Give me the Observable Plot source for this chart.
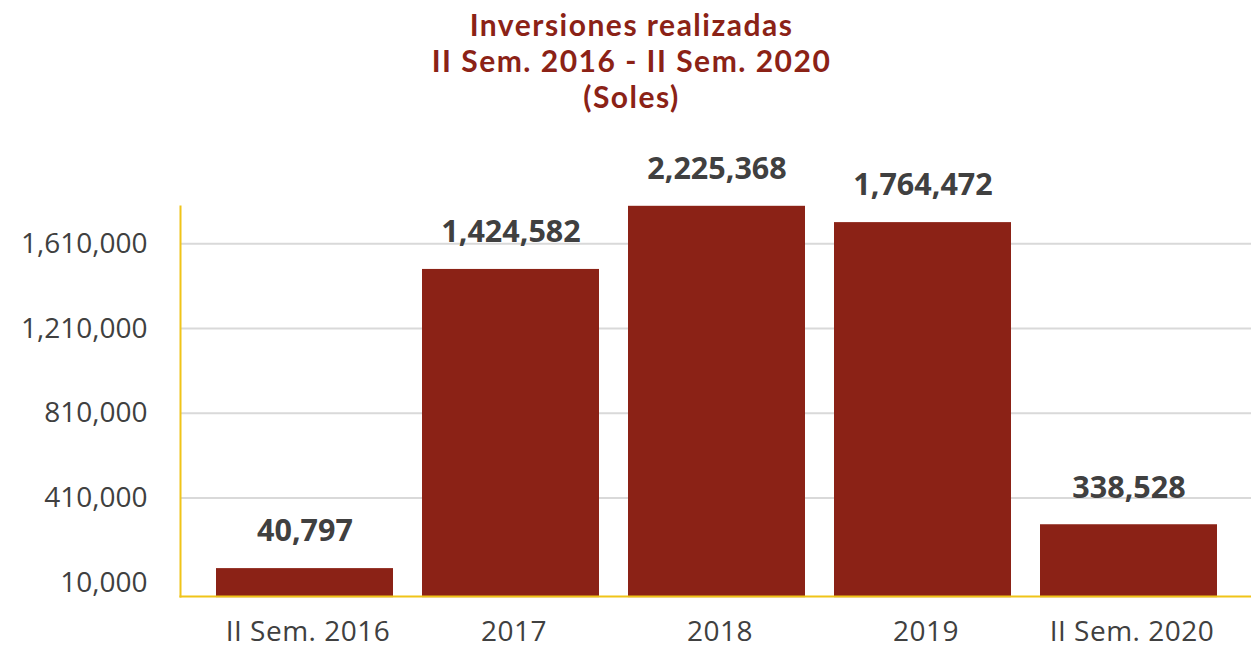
<!DOCTYPE html>
<html>
<head>
<meta charset="utf-8">
<script src="https://cdn.jsdelivr.net/npm/d3@7"></script>
<script src="https://cdn.jsdelivr.net/npm/@observablehq/plot@0.6"></script>
<style>
  html, body { margin: 0; padding: 0; background: #fff; }
  #title { height: 125px; box-sizing: border-box; padding-top: 6px; padding-left: 12px;
    text-align: center; font-family: Lato, sans-serif; font-weight: 700;
    font-size: 30px; line-height: 36px; letter-spacing: 1.5px; color: #8B2216; }
  #chart svg { display: block; }
</style>
</head>
<body>
<div id="title">Inversiones realizadas<br>II Sem. 2016 - II Sem. 2020<br>(Soles)</div>
<div id="chart"></div>
<script>
// Categories (x axis)
const categories = ["II Sem. 2016", "2017", "2018", "2019", "II Sem. 2020"];
// Bar heights as drawn against the y axis
const barValues = [77000, 1489000, 1787000, 1710000, 284000];
// Value labels printed above the bars
const labelValues = [40797, 1424582, 2225368, 1764472, 338528];
// Y axis ticks
const yTicks = [10000, 410000, 810000, 1210000, 1610000];
const gridTicks = [410000, 810000, 1210000, 1610000];
const axisBase = -60000;

const data = categories.map((c, i) => ({cat: c, value: barValues[i], label: d3.format(",")(labelValues[i])}));

const font = "Open Sans, sans-serif";
const plot = Plot.plot({
  width: 1251,
  height: 532,
  marginTop: 81,
  marginBottom: 61,
  marginLeft: 180,
  marginRight: 0,
  style: {fontFamily: font, background: "white"},
  x: {type: "band", domain: categories, range: [202, 1232], paddingInner: 0.14, paddingOuter: 0.07, axis: null},
  y: {domain: [10000, 1610000], range: [457.3, 118.3], axis: null},
  marks: [
    Plot.ruleY(gridTicks, {stroke: "#D9D9D9", strokeWidth: 2}),
    Plot.barY(data, {x: "cat", y1: axisBase, y2: "value", fill: "#8B2216"}),
    Plot.frame({anchor: "left", stroke: "#F0C419", strokeWidth: 2}),
    Plot.frame({anchor: "bottom", stroke: "#F0C419", strokeWidth: 2}),
    Plot.text(yTicks, {y: d => d, text: d => d3.format(",")(d), frameAnchor: "left", textAnchor: "end", dx: -33,
      fontSize: 28, fill: "#404040"}),
    Plot.text(categories, {x: d => d, text: d => d, frameAnchor: "bottom", dy: 44, dx: 3, fontSize: 28, fill: "#404040"}),
    Plot.text(data, {x: "cat", y: "value", text: "label", dy: -37, fontSize: 30.5, fontWeight: "bold", fill: "#404040"})
  ]
});
plot.querySelectorAll("text").forEach(t => {
  if (categories.includes(t.textContent)) t.setAttribute("letter-spacing", "0.5");
});
document.getElementById("chart").appendChild(plot);
</script>
</body>
</html>
